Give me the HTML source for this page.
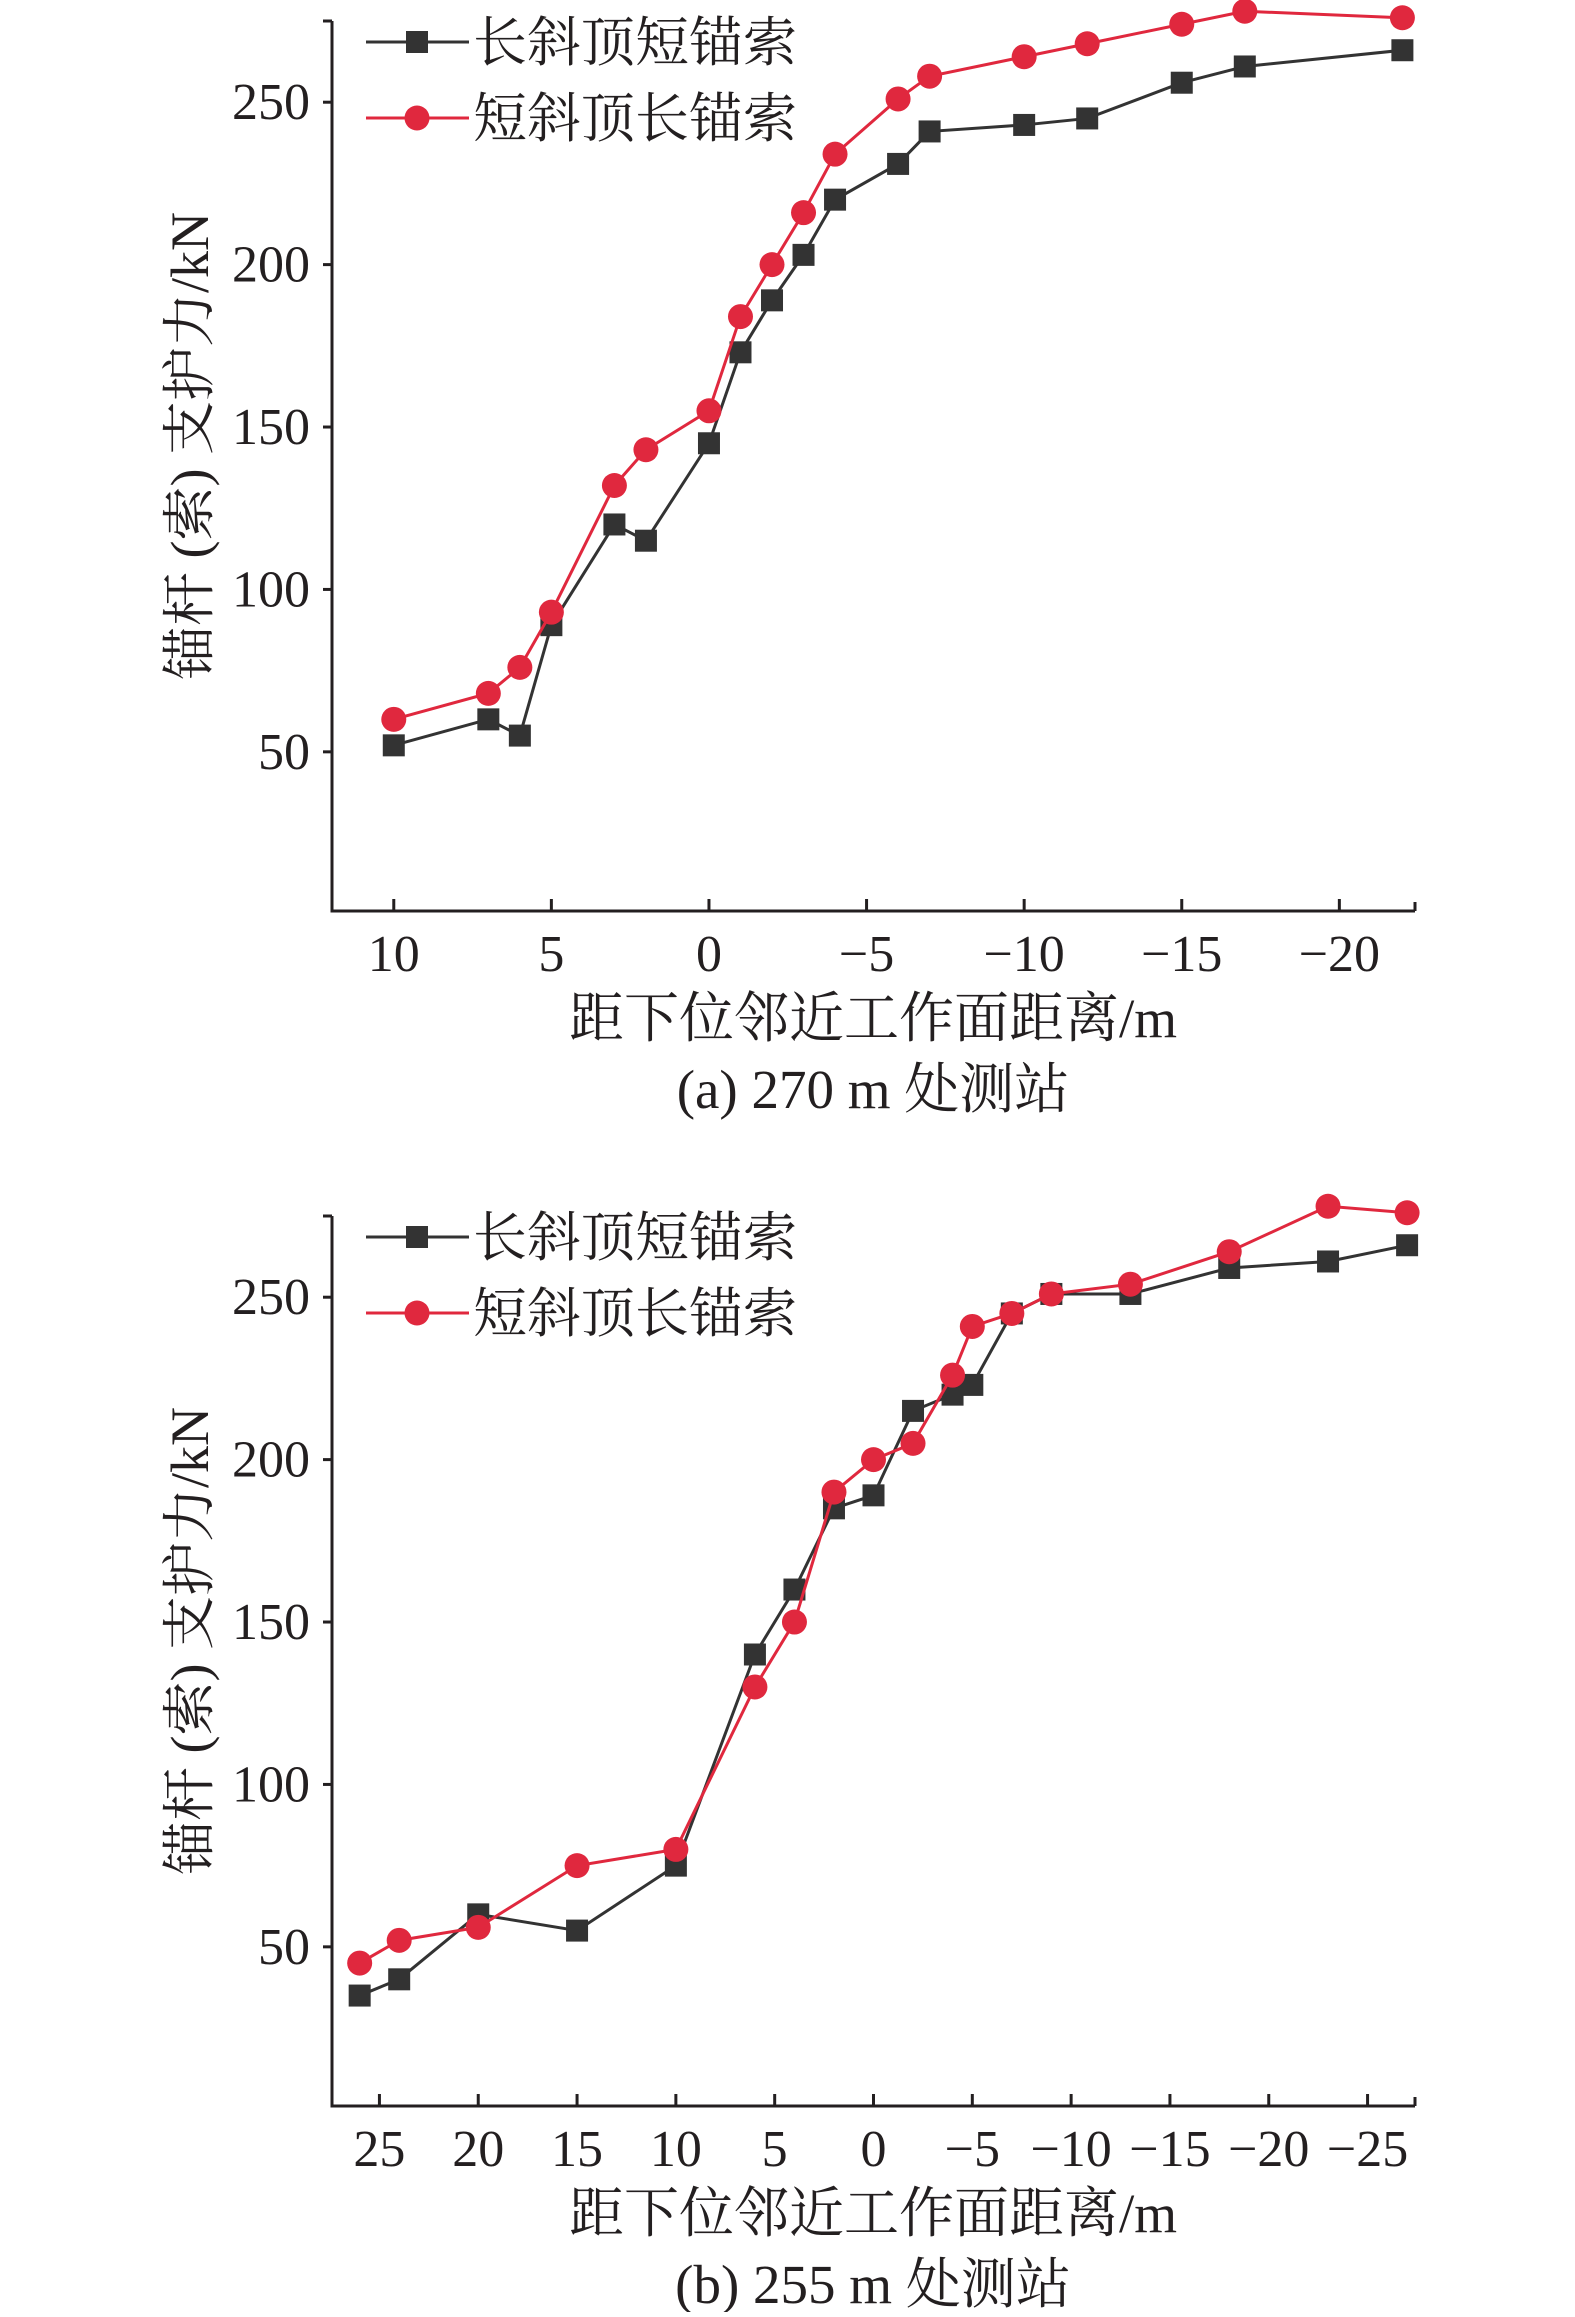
<!DOCTYPE html>
<html><head><meta charset="utf-8"><style>
html,body{margin:0;padding:0;background:#fff}
svg text{font-family:"Liberation Serif","Noto Serif CJK SC",serif;fill:#231f20}
</style></head><body>
<svg id="s" width="1575" height="2312" xmlns="http://www.w3.org/2000/svg"></svg>
<script>
const xA=[10,7,6,5,3,2,0,-1,-2,-3,-4,-6,-7,-10,-12,-15,-17,-22];
const blackA=[52,60,55,89,120,115,145,173,189,203,220,231,241,243,245,256,261,266];
const redA=[60,68,76,93,132,143,155,184,200,216,234,251,258,264,268,274,278,276];
const xB=[26,24,20,15,10,6,4,2,0,-2,-4,-5,-7,-9,-13,-18,-23,-27];
const blackB=[35,40,60,55,75,140,160,185,189,215,220,223,245,251,251,259,261,266];
const redB=[45,52,56,75,80,130,150,190,200,205,226,241,245,251,254,264,278,276];
const ticksXA=[10,5,0,-5,-10,-15,-20];
const ticksXB=[25,20,15,10,5,0,-5,-10,-15,-20,-25];
const ticksY=[50,100,150,200,250];
const NS="http://www.w3.org/2000/svg";
const svg=document.getElementById('s');
function mk(tag,attrs,parent){const e=document.createElementNS(NS,tag);for(const k in attrs)e.setAttribute(k,attrs[k]);(parent||svg).appendChild(e);return e;}
function fmt(v){return v<0?'\u2212'+(-v):''+v;}
function chart(o){
  const g=mk('g',{});
  
  
  const L=332,R=1415,T=o.top,B=o.top+890;
  const sx=v=>L+(o.x0-v)/(o.x0-o.x1)*(R-L);
  const sy=v=>B-(v-1)/(275-1)*(B-T);
  const ax=mk('path',{d:`M${L},${T} L${L},${B} L${R},${B}`,fill:'none',stroke:'#231f20','stroke-width':3},g);
  
  
  mk('line',{x1:L-9,x2:L,y1:T,y2:T,stroke:'#231f20','stroke-width':3},g);
  ticksY.forEach(v=>{
    mk('line',{x1:L-9,x2:L,y1:sy(v),y2:sy(v),stroke:'#231f20','stroke-width':3},g);
    const t=mk('text',{x:L-22,y:sy(v)+17,'font-size':52,'text-anchor':'end'},g);t.textContent=v;
    
    
  });
  mk('line',{x1:R,x2:R,y1:B-9,y2:B,stroke:'#231f20','stroke-width':3},g);
  o.ticks.forEach(v=>{
    mk('line',{x1:sx(v),x2:sx(v),y1:B-12,y2:B,stroke:'#231f20','stroke-width':3},g);
    const t=mk('text',{x:sx(v),y:B+60,'font-size':52,'text-anchor':'middle'},g);t.textContent=fmt(v);
    
    
  });
  const series=[[o.black,'#333','sq','black-series'],[o.red,'#e0283e','ci','red-series']];
  series.forEach(([d,c,m,n])=>{
    const sg=mk('g',{},g);
    
    
    mk('polyline',{points:o.xs.map((x,i)=>sx(x)+','+sy(d[i])).join(' '),fill:'none',stroke:c,'stroke-width':3},sg);
    o.xs.forEach((x,i)=>{
      const p=m==='sq'?mk('rect',{x:sx(x)-11,y:sy(d[i])-11,width:22,height:22,fill:c},sg):mk('circle',{cx:sx(x),cy:sy(d[i]),r:12.5,fill:c},sg);
      
      
    });
  });
  const lg=[['长斜顶短锚索','#333','sq',T+21],['短斜顶长锚索','#e0283e','ci',T+97]];
  lg.forEach(([txt,c,m,y])=>{
    const e=mk('g',{},g);
    
    
    mk('line',{x1:366,x2:469,y1:y,y2:y,stroke:c,'stroke-width':3},e);
    if(m==='sq')mk('rect',{x:406,y:y-11,width:22,height:22,fill:c},e);else mk('circle',{cx:417,cy:y,r:12.5,fill:c},e);
    const t=mk('text',{x:473,y:y+19,'font-size':54},e);t.textContent=txt;
  });
  const yl=mk('text',{transform:`translate(208,${(T+B)/2-20}) rotate(-90)`,'font-size':54,'text-anchor':'middle'},g);
  yl.textContent='锚杆 (索) 支护力/kN';
  
  
  const xl=mk('text',{x:873,y:B+126,'font-size':55,'text-anchor':'middle'},g);
  xl.textContent='距下位邻近工作面距离/m';
  
  
  const cap=mk('text',{x:873,y:B+197,'font-size':55,'text-anchor':'middle'},g);
  cap.textContent=o.caption;
  
  
}
chart({name:'chart-a',top:21,x0:11.96,x1:-22.4,ticks:ticksXA,xs:xA,black:blackA,red:redA,caption:'(a) 270 m 处测站'});
chart({name:'chart-b',top:1216,x0:27.4,x1:-27.4,ticks:ticksXB,xs:xB,black:blackB,red:redB,caption:'(b) 255 m 处测站'});
</script>
</body></html>
